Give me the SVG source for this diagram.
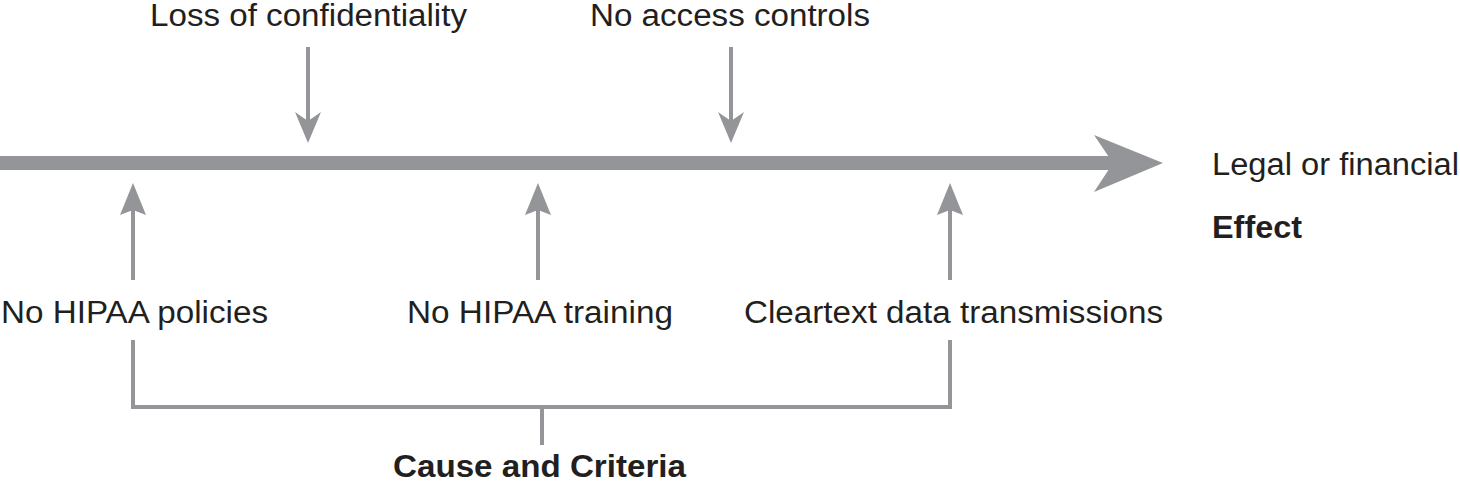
<svg xmlns="http://www.w3.org/2000/svg" width="1460" height="484" viewBox="0 0 1460 484">
<style>
.t{font-family:"Liberation Sans",Arial,sans-serif;font-size:31px;fill:#231f20}
.b{font-weight:bold}
.ln{stroke:#939598;stroke-width:4;fill:none}
.hd{fill:#939598}
</style>
<defs>
<polygon id="up" points="0,0 13,32 0,27 -13,32"/>
<polygon id="down" points="0,0 -13,-31 0,-22 13,-31"/>
</defs>
<rect width="1460" height="484" fill="#fff"/>
<g id="connectors">
<g id="timeline">
<rect x="0" y="156" width="1117" height="14" class="hd"/>
<polygon class="hd" points="1094,135 1163,163 1094,192 1113,163"/>
</g>
<g id="c-loss"><line class="ln" x1="308" y1="47" x2="308" y2="125"/><use href="#down" x="308" y="143" class="hd"/></g>
<g id="c-access"><line class="ln" x1="731" y1="47" x2="731" y2="125"/><use href="#down" x="731" y="143" class="hd"/></g>
<g id="c-policies"><line class="ln" x1="133" y1="205" x2="133" y2="280"/><use href="#up" x="133" y="183" class="hd"/></g>
<g id="c-training"><line class="ln" x1="538" y1="205" x2="538" y2="280"/><use href="#up" x="538" y="183" class="hd"/></g>
<g id="c-cleartext"><line class="ln" x1="950" y1="205" x2="950" y2="280"/><use href="#up" x="950" y="183" class="hd"/></g>
<g id="bracket"><polyline class="ln" points="133,340 133,407 950,407 950,340"/><line class="ln" x1="542" y1="407" x2="542" y2="445"/></g>
</g>
<g id="n-loss"><text class="t" x="150" y="26" textLength="317" lengthAdjust="spacingAndGlyphs">Loss of confidentiality</text></g>
<g id="n-access"><text class="t" x="590" y="26" textLength="280" lengthAdjust="spacingAndGlyphs">No access controls</text></g>
<g id="n-legal"><text class="t" x="1212" y="175" textLength="247" lengthAdjust="spacingAndGlyphs">Legal or financial</text></g>
<g id="n-effect"><text class="t b" x="1212" y="238" textLength="90" lengthAdjust="spacingAndGlyphs">Effect</text></g>
<g id="n-policies"><text class="t" x="1" y="323" textLength="267" lengthAdjust="spacingAndGlyphs">No HIPAA policies</text></g>
<g id="n-training"><text class="t" x="407" y="323" textLength="266" lengthAdjust="spacingAndGlyphs">No HIPAA training</text></g>
<g id="n-cleartext"><text class="t" x="744" y="323" textLength="419" lengthAdjust="spacingAndGlyphs">Cleartext data transmissions</text></g>
<g id="n-cause"><text class="t b" x="393" y="477" textLength="293" lengthAdjust="spacingAndGlyphs">Cause and Criteria</text></g>
</svg>
